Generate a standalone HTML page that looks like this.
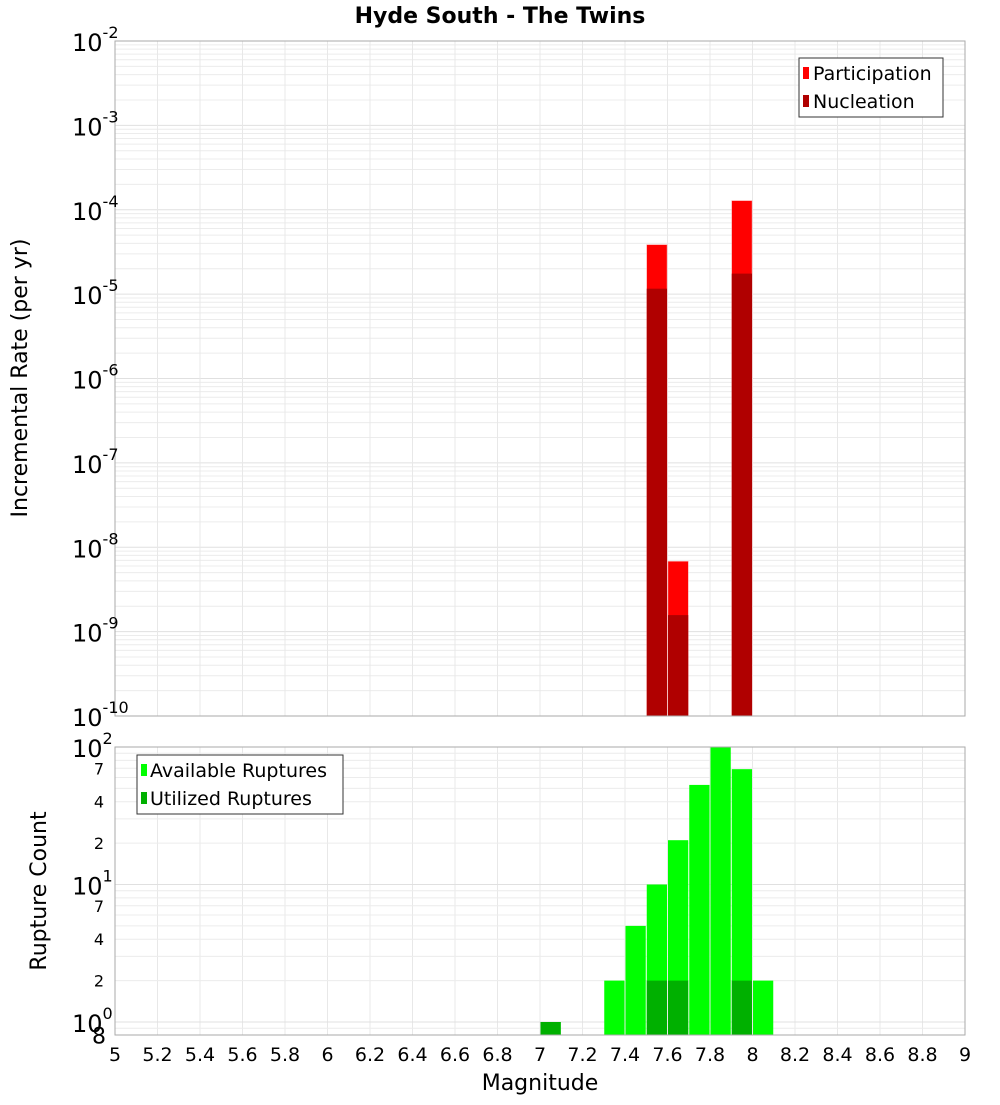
<!DOCTYPE html>
<html><head><meta charset="utf-8"><style>
body{margin:0;background:#fff;font-family:"Liberation Sans","DejaVu Sans",sans-serif}
svg text{font-family:"DejaVu Sans","Liberation Sans",sans-serif}
</style></head><body>
<svg id="c" width="1000" height="1100" xmlns="http://www.w3.org/2000/svg">
<text x="500" y="23" text-anchor="middle" font-size="22" font-weight="bold">Hyde South - The Twins</text>
<g id="top"></g>
<g id="bot"></g>
<text transform="translate(27,378) rotate(-90)" text-anchor="middle" font-size="22">Incremental Rate (per yr)</text>
<text transform="translate(46,891) rotate(-90)" text-anchor="middle" font-size="22">Rupture Count</text>
<text x="540" y="1090" text-anchor="middle" font-size="22">Magnitude</text>
<g>
<rect x="799" y="58" width="144" height="59" fill="#fff" stroke="#333"/>
<rect x="803" y="67" width="6" height="12" fill="#ff0000"/>
<text x="813" y="80" font-size="19">Participation</text>
<rect x="803" y="95" width="6" height="12" fill="#b00000"/>
<text x="813" y="108" font-size="19">Nucleation</text>
</g>
<g>
<rect x="137" y="755" width="206" height="59" fill="#fff" stroke="#333"/>
<rect x="141" y="764" width="6" height="12" fill="#00ff00"/>
<text x="150" y="777" font-size="19">Available Ruptures</text>
<rect x="141" y="792" width="6" height="12" fill="#00b000"/>
<text x="150" y="805" font-size="19">Utilized Ruptures</text>
</g>
</svg>
<script>
const rateMags=[7.55,7.65,7.95];
const participation=[3.85e-5,6.8e-9,1.28e-4];
const nucleation=[1.16e-5,1.57e-9,1.75e-5];
const countMags=[7.05,7.35,7.45,7.55,7.65,7.75,7.85,7.95,8.05];
const available=[1,2,5,10,21,53,100,69,2];
const utilized=[1,0,0,2,2,0,0,2,0];
const xTicks=["5","5.2","5.4","5.6","5.8","6","6.2","6.4","6.6","6.8","7","7.2","7.4","7.6","7.8","8","8.2","8.4","8.6","8.8","9"];

const NS="http://www.w3.org/2000/svg";
const svg=document.getElementById('c');
const gT=document.getElementById('top'), gB=document.getElementById('bot');
const L=115,R=965;
const X=m=>L+(m-5)*(R-L)/4;
const tT=41,tB=716;
const yTop=v=>tT+(-2-Math.log10(v))*(tB-tT)/8;
const bT=747,bB=1035,dec=137.5;
const yBot=v=>1022-Math.log10(v)*dec;
function mk(g,tag,a){const e=document.createElementNS(NS,tag);for(const k in a)e.setAttribute(k,a[k]);g.appendChild(e);return e;}

// top grid
mk(gT,'rect',{x:L,y:tT,width:R-L,height:tB-tT,fill:'#fff'});
for(let e=-10;e<-2;e++)for(let k=1;k<10;k++){const y=yTop(k*Math.pow(10,e));
 const l=mk(gT,'line',{x1:L,x2:R,y1:y,y2:y,stroke:k==1?'#e0e0e0':'#ececec','stroke-width':1});
 }
for(let i=0;i<xTicks.length;i++){const x=X(+xTicks[i]);
 const l=mk(gT,'line',{x1:x,x2:x,y1:tT,y2:tB,stroke:'#e8e8e8'});
 
 const l2=mk(gB,'line',{x1:x,x2:x,y1:bT,y2:bB,stroke:'#e8e8e8'});
 
 const t=mk(svg,'text',{x:x,y:1061,'text-anchor':'middle','font-size':19});t.textContent=xTicks[i];
 }
for(let e=-10;e<=-2;e++){const y=yTop(Math.pow(10,e));
 const t=mk(svg,'text',{x:72,y:y+10,'font-size':24});t.innerHTML='10<tspan dy="-13" font-size="16">'+e+'</tspan>';
 }
const w=(R-L)/40;
rateMags.forEach((m,i)=>{const x=X(m)-w/2+0.5;
 let r=mk(gT,'rect',{x:x,y:yTop(participation[i]),width:w-1,height:tB-yTop(participation[i]),fill:'#ff0000',stroke:'#ff9090','stroke-width':0.5});
 
 r=mk(gT,'rect',{x:x,y:yTop(nucleation[i]),width:w-1,height:tB-yTop(nucleation[i]),fill:'#b00000'});
 });
mk(gT,'rect',{x:L,y:tT,width:R-L,height:tB-tT,fill:'none',stroke:'#aaa'});

// bottom
for(let e=-1;e<2;e++)for(let k=1;k<10;k++){const v=k*Math.pow(10,e);const y=yBot(v);if(y<bT-0.5||y>bB)continue;
 const l=mk(gB,'line',{x1:L,x2:R,y1:y,y2:y,stroke:k==1?'#e0e0e0':'#ececec'});
 }
gB.insertBefore(mk(gB,'rect',{x:L,y:bT,width:R-L,height:bB-bT,fill:'#fff'}),gB.firstChild);
for(let e=0;e<=2;e++){const y=yBot(Math.pow(10,e));
 const t=mk(svg,'text',{x:72,y:y+10,'font-size':24});t.innerHTML='10<tspan dy="-13" font-size="16">'+e+'</tspan>';
 }
[[2,0],[4,0],[7,0],[2,1],[4,1],[7,1],[8,-1]].forEach(([k,e])=>{const y=yBot(k*Math.pow(10,e));
 const t=mk(svg,'text',{x:e<0?106:104,y:y+(e<0?8:6),'text-anchor':'end','font-size':e<0?22:16});t.textContent=k;
 });
countMags.forEach((m,i)=>{const x=X(m)-w/2+0.5;
 let r=mk(gB,'rect',{x:x,y:yBot(available[i]),width:w-1,height:bB-yBot(available[i]),fill:'#00ff00'});
 
 if(utilized[i]>0){r=mk(gB,'rect',{x:x,y:yBot(utilized[i]),width:w-1,height:bB-yBot(utilized[i]),fill:'#00b000'});
 }});
mk(gB,'rect',{x:L,y:bT,width:R-L,height:bB-bT,fill:'none',stroke:'#aaa'});
</script>
</body></html>
